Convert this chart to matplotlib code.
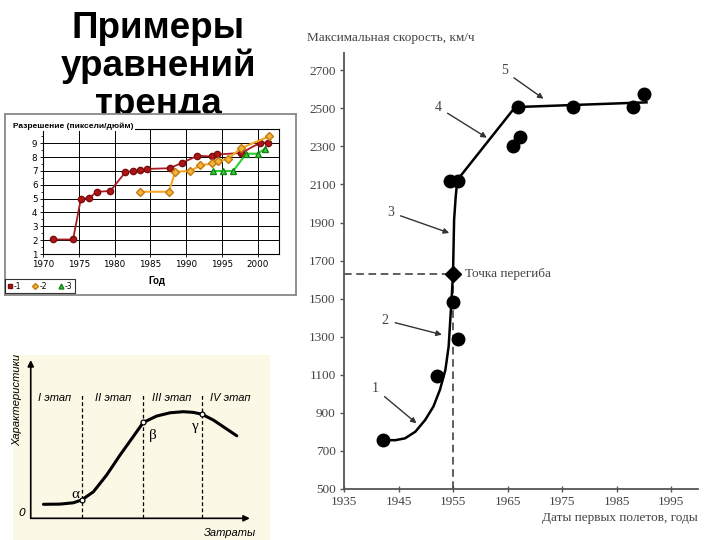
import matplotlib.pyplot as plt
from matplotlib.lines import Line2D
from matplotlib.ticker import MultipleLocator

# --- top-left chart: resolution (pixels/inch) by year
res1_year = [1971.4, 1974.2, 1975.3, 1976.5, 1977.5, 1979.4, 1981.5, 1982.6, 1983.6,
             1984.5, 1987.7, 1989.5, 1991.6, 1993.7, 1994.4, 1997.7, 2000.4, 2001.4]
res1_val = [2.05, 2.05, 5.0, 5.05, 5.5, 5.55, 6.9, 7.0, 7.05,
            7.15, 7.2, 7.6, 8.1, 8.05, 8.2, 8.3, 9.05, 9.05]
res2_year = [1983.6, 1987.6, 1988.5, 1990.6, 1992.0, 1993.7, 1994.5, 1995.8, 1997.7, 2001.6]
res2_val = [5.5, 5.5, 6.95, 7.0, 7.4, 7.55, 7.75, 7.85, 8.65, 9.5]
res3_year = [1993.8, 1995.2, 1996.6, 1998.4, 2000.0, 2001.0]
res3_val = [7.0, 7.0, 7.0, 8.25, 8.25, 8.6]
res_labels = ['-1', '-2', '-3']

# --- bottom-left chart: S-curve of characteristics vs costs (arbitrary units)
cost = [5.8, 13.4, 19.5, 23.3, 28.6, 34.7, 40.8, 46.8, 51.4, 57.5, 63.6, 69.7, 74.2, 78.1, 83.4, 89.5, 94.1]
charact = [6.4, 6.5, 7.1, 8.4, 12.1, 19.8, 28.9, 37.3, 43.8, 46.7, 48.2, 48.7, 48.4, 47.6, 44.9, 40.8, 37.7]
stage_bounds = [23.3, 51.4, 78.1]
stage_names = ['I этап', 'II этап', 'III этап', 'IV этап']
stage_label_x = [11.1, 37.7, 64.4, 91.0]
key_idx = [3, 8, 13]
key_names = ['α', 'β', 'γ']

# --- right chart: max speed vs first flight year
pt_year = [1942.1, 1952.0, 1955.0, 1955.9, 1954.5, 1956.0, 1966.0, 1967.2, 1967.0, 1977.0, 1988.0, 1990.1]
pt_speed = [756, 1095, 1480, 1285, 2120, 2120, 2305, 2350, 2505, 2505, 2505, 2575]
trend_year = [1942.1, 1944.4, 1946.2, 1948.1, 1949.9, 1951.4, 1952.6, 1953.6, 1954.2, 1954.5,
              1954.8, 1955.0, 1955.2, 1955.5, 1955.8, 1966.4, 1990.5]
trend_speed = [756, 755, 765, 800, 862, 932, 1020, 1125, 1248, 1389,
               1529, 1631, 1915, 2038, 2124, 2507, 2532]
infl_year, infl_speed = 1955.0, 1631
seg_labels = ['1', '2', '3', '4', '5']
seg_label_pos = [(1940.7, 1026), (1942.5, 1387), (1943.5, 1954), (1952.2, 2507), (1964.4, 2697)]
seg_arrow_end = [(1948.3, 844), (1952.96, 1310), (1954.3, 1845), (1961.2, 2346), (1971.6, 2551)]

W, H = 720, 540


def px(l, t, r, b):
    return [l / W, 1 - b / H, (r - l) / W, (b - t) / H]


fig = plt.figure(figsize=(7.2, 5.4), dpi=100)
fig.patch.set_facecolor('white')

fig.text(158 / W, 1 - 11 / H, 'Примеры\nуравнений\nтренда', ha='center', va='top',
         fontsize=26.5, fontweight='bold', family='Liberation Sans', linespacing=1.1, zorder=0.5)

# ---------- top-left
box = fig.add_axes(px(5, 114, 296, 295))
box.set_zorder(1)
box.set_xticks([])
box.set_yticks([])
for s in box.spines.values():
    s.set_color('#888888')
    s.set_linewidth(1.3)

ax1 = fig.add_axes(px(43, 129.5, 279, 254))
ax1.set_zorder(2)
ax1.plot(res1_year, res1_val, '-o', color='#a81c22', mfc='#b01515', mec='#7a0d0d',
         ms=4.5, lw=1.3)
ax1.plot(res2_year, res2_val, '-D', color='#f5a623', mfc='#f7b23a', mec='#c07a10',
         ms=4, lw=1.5)
ax1.plot(res3_year, res3_val, '-^', color='#2ecc2e', mfc='#35d435', mec='#168016',
         ms=4.5, lw=1.5)
ax1.set_xlim(1970, 2003)
ax1.set_ylim(1, 10)
ax1.set_xticks(range(1970, 2001, 5))
ax1.set_yticks(range(1, 10))
ax1.yaxis.set_minor_locator(MultipleLocator(0.5))
ax1.grid(True, color='black', lw=0.7)
ax1.tick_params(labelsize=6.3, length=2, width=0.6, pad=2)
ax1.tick_params(which='minor', length=1.5, width=0.5)
for s in ax1.spines.values():
    s.set_linewidth(0.8)

fig.text(13 / W, 1 - 126 / H, 'Разрешение (пиксели/дюйм)', fontsize=6, fontweight='bold',
         va='center', family='Liberation Sans', zorder=3,
         bbox=dict(facecolor='white', edgecolor='none', pad=1))
fig.text(157 / W, 1 - 281 / H, 'Год', fontsize=7, fontweight='bold', ha='center', va='center',
         family='Liberation Sans', zorder=3)

handles = [Line2D([], [], ls='', marker='s', color='#b01515', mec='#7a0d0d', ms=3.5),
           Line2D([], [], ls='', marker='D', color='#f7b23a', mec='#c07a10', ms=3),
           Line2D([], [], ls='', marker='^', color='#35d435', mec='#168016', ms=3.5)]
leg = ax1.legend(handles, res_labels, ncol=3, loc='lower left',
                 bbox_to_anchor=(5 / W, 1 - 293 / H), bbox_transform=fig.transFigure,
                 fontsize=5.5, frameon=True, fancybox=False, edgecolor='black',
                 handlelength=0.6, handletextpad=0.2, columnspacing=1.6,
                 borderpad=0.3, borderaxespad=0)
leg.get_frame().set_linewidth(0.8)

# ---------- bottom-left
ax2 = fig.add_axes(px(13, 355, 270, 540))
ax2.set_facecolor('#fcf8e6')
ax2.set_xticks([])
ax2.set_yticks([])
for s in ax2.spines.values():
    s.set_visible(False)
ax2.set_xlim(-8.1, 109.3)
ax2.set_ylim(-9.9, 74.6)
arr = dict(arrowstyle='-|>', lw=1.2, color='black', mutation_scale=9, shrinkA=0, shrinkB=0)
ax2.annotate('', xy=(0, 72.3), xytext=(0, 0), arrowprops=arr)
ax2.annotate('', xy=(100.1, 0), xytext=(0, 0), arrowprops=arr)
for xb in stage_bounds:
    ax2.plot([xb, xb], [0, 57], ls=(0, (3, 2)), color='black', lw=0.9)
for name, xl in zip(stage_names, stage_label_x):
    ax2.text(xl, 54.8, name, ha='center', va='center', fontsize=8, style='italic',
             family='Liberation Sans')
ax2.plot(cost, charact, color='black', lw=2.2, solid_capstyle='round', solid_joinstyle='round')
ax2.plot([cost[i] for i in key_idx], [charact[i] for i in key_idx], 'o', mfc='white',
         mec='black', ms=3.5, mew=0.9)
for name, (tx, ty) in zip(key_names, [(20.2, 11), (55.7, 38), (75, 42)]):
    ax2.text(tx, ty, name, ha='center', va='center', fontsize=11, family='Liberation Serif')
ax2.text(-4.1, 2.3, '0', ha='center', va='center', fontsize=8, style='italic')
ax2.text(91, -6.8, 'Затраты', ha='center', va='center', fontsize=8, style='italic',
         family='Liberation Sans')
ax2.text(-6.4, 54, 'Характеристики', ha='center', va='center', fontsize=8, style='italic',
         rotation=90, family='Liberation Sans')

# ---------- right
grey = '#444444'
ax3 = fig.add_axes(px(344, 53.3, 698.3, 488.7))
ax3.set_xlim(1935, 2000)
ax3.set_ylim(500, 2790)
ax3.set_xticks(range(1935, 2000, 10))
ax3.set_yticks(range(500, 2701, 200))
for s in ['top', 'right']:
    ax3.spines[s].set_visible(False)
for s in ['left', 'bottom']:
    ax3.spines[s].set_color('#555555')
    ax3.spines[s].set_linewidth(1.3)
ax3.tick_params(axis='x', direction='inout', length=5, width=1, color='#555555', labelcolor=grey,
                labelsize=9.5, pad=3)
ax3.tick_params(axis='y', direction='out', length=3, width=1, color='#555555', labelcolor=grey,
                labelsize=9.5, pad=3)
for lab in ax3.get_xticklabels() + ax3.get_yticklabels():
    lab.set_family('Liberation Serif')

ax3.plot([1935, infl_year], [infl_speed, infl_speed], ls=(0, (5, 3)), color='#333333', lw=1.1)
ax3.plot([infl_year, infl_year], [500, infl_speed], ls=(0, (5, 3)), color='#333333', lw=1.1)
ax3.plot(trend_year, trend_speed, color='black', lw=1.8)
ax3.plot(pt_year, pt_speed, 'o', color='black', ms=9, clip_on=False)
ax3.plot([infl_year], [infl_speed], 'D', color='black', ms=8)
ax3.text(1957.2, infl_speed, 'Точка перегиба', va='center', ha='left', fontsize=9.5,
         family='Liberation Serif', color=grey)
for lab, pos, end in zip(seg_labels, seg_label_pos, seg_arrow_end):
    ax3.annotate(lab, xy=end, xytext=pos, ha='center', va='center', fontsize=10,
                 family='Liberation Serif', color=grey,
                 arrowprops=dict(arrowstyle='-|>', color='#333333', lw=1,
                                 mutation_scale=8, shrinkA=3, shrinkB=0))

fig.text(307 / W, 1 - 38 / H, 'Максимальная скорость, км/ч', ha='left', va='center',
         fontsize=9.5, family='Liberation Serif', color=grey)
fig.text(698 / W, 1 - 518 / H, 'Даты первых полетов, годы', ha='right', va='center',
         fontsize=9.5, family='Liberation Serif', color=grey)

fig.savefig('out.png', dpi=100)
